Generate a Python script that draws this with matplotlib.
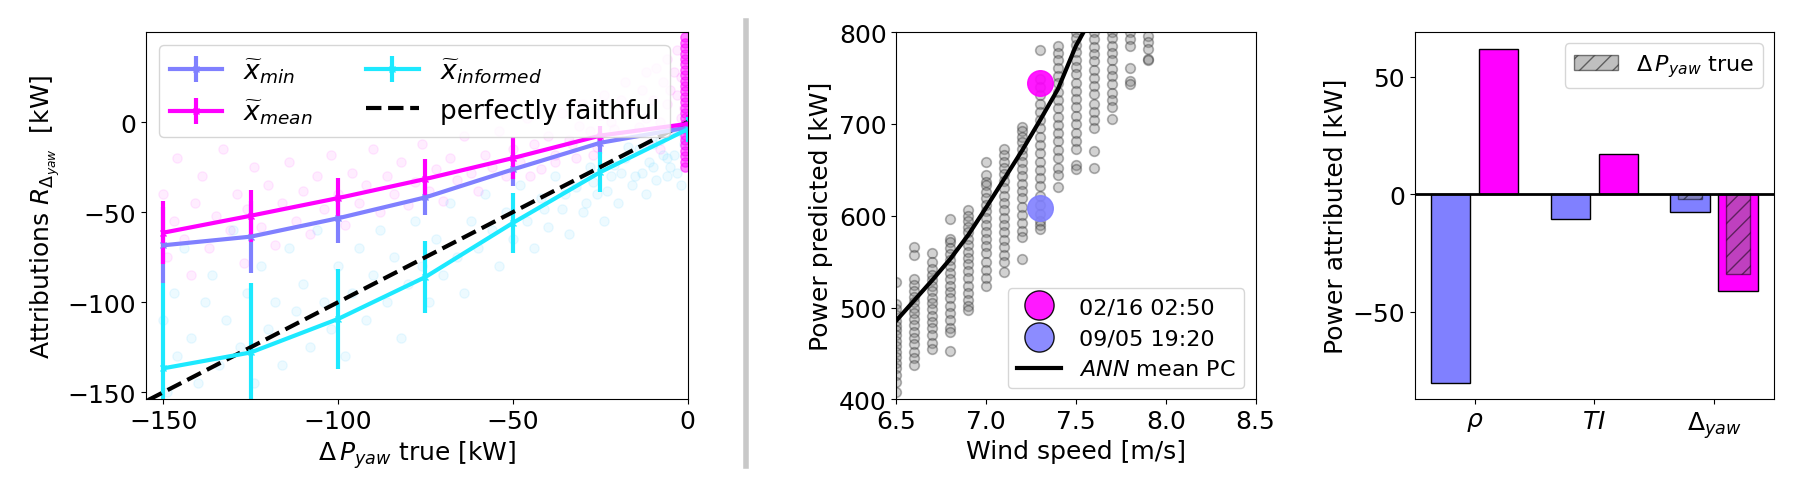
import numpy as np
import matplotlib
matplotlib.use("Agg")
import matplotlib.pyplot as plt
from matplotlib.lines import Line2D
from matplotlib.patches import Patch

# ---- left panel: attributions vs true delta P ----
dp_true = [-150, -125, -100, -75, -50, -25, 0]
r_min = [-68.4, -63.6, -53.4, -41.8, -26.3, -11.5, -3]
r_min_err = [21, 20, 13.5, 10, 9, 6, 4]
r_mean = [-61.4, -52, -42.2, -31.6, -20, -7.5, -1]
r_mean_err = [17.5, 14.5, 11, 11, 11.5, 5.5, 5]
r_inf = [-136.7, -127.9, -109.3, -86, -56, -27.8, -4]
r_inf_err = [47.5, 38.5, 28, 20, 16.5, 11, 7]

# faint background samples
pink_x = [-150, -149, -147, -146, -144, -142, -141, -139, -137, -135,
          -133, -131, -129, -127, -126, -124, -122, -120, -118, -116,
          -114, -112, -110, -108, -106, -104, -102, -100, -98, -96,
          -94, -92, -90, -88, -86, -84, -82, -80, -78, -76,
          -74, -72, -70, -68, -66, -64, -62, -60, -58, -56,
          -54, -52, -50, -48, -46, -44, -42, -40, -38, -36,
          -34, -32, -30, -28, -26, -24, -22, -20, -18, -16,
          -14, -12, -10, -8, -6, -5, -4, -3, -2, -1,
          -45, -38, -33, -27, -21, -17, -13, -11, -9, -7,
          -31, -25, -19, -15, -6, -4, -3, -2, -12, -8]
pink_y = [-40, -75, -55, -20, -65, -85, -45, -30, -70, -52,
          -15, -60, -40, -78, -48, -25, -58, -35, -68, -45,
          -22, -55, -38, -62, -30, -48, -18, -40, -57, -28,
          -45, -35, -15, -50, -30, -40, -22, -46, -33, -12,
          -38, -26, -44, -20, -32, -8, -28, -38, -18, -25,
          -5, -30, -15, -22, 2, -12, -26, -8, -18, 5,
          -10, -20, 10, -5, -14, 15, 0, -8, 22, 5,
          -3, 28, 12, 0, 35, 18, -5, 40, 25, 8,
          -30, -22, -12, -18, -4, 8, 18, -12, 30, 22,
          -2, 4, 12, -6, 10, 28, 15, 2, 2, -15]
cyan_x = [-150, -149, -147, -146, -144, -142, -140, -138, -136, -134,
          -132, -130, -128, -126, -124, -122, -120, -118, -116, -114,
          -112, -110, -108, -106, -104, -102, -100, -98, -96, -94,
          -92, -90, -88, -86, -84, -82, -80, -78, -76, -74,
          -72, -70, -68, -66, -64, -62, -60, -58, -56, -54,
          -52, -50, -48, -46, -44, -42, -40, -38, -36, -34,
          -32, -30, -28, -26, -24, -22, -20, -18, -16, -14,
          -12, -10, -8, -6, -4, -3, -2, -1,
          -41, -35, -29, -23, -19, -15, -11, -9, -7, -5,
          -27, -21, -17, -13, -10, -6, -3, -1]
cyan_y = [-110, -150, -95, -130, -70, -120, -145, -100, -85, -135,
          -110, -60, -125, -95, -145, -80, -115, -100, -135, -70,
          -105, -90, -125, -60, -100, -115, -80, -130, -95, -70,
          -110, -85, -60, -100, -75, -120, -90, -55, -80, -100,
          -65, -85, -45, -75, -95, -55, -70, -40, -60, -80,
          -50, -65, -35, -55, -70, -42, -58, -30, -48, -62,
          -36, -50, -25, -40, -55, -30, -45, -20, -35, -15,
          -40, -25, -10, -30, -18, -5, -35, -12,
          -48, -40, -45, -38, -28, -30, -22, -32, -18, -25,
          -33, -24, -14, -28, -12, -20, -28, -8]
band_y = [47, 44, 41, 38, 35, 32, 29, 26, 23, 20, 17, 14, 11, 8, 5, 2,
          -1, -4, -7, -10, -13, -16, -19, -22, -25]

# ---- middle panel: power curve ----
ws_cols = [6.5, 6.6, 6.7, 6.8, 6.9, 7.0, 7.1, 7.2, 7.3, 7.4, 7.5, 7.6, 7.7, 7.8, 7.9]
p_cols = [
    [528, 504, 498, 492, 485, 480, 476, 470, 464, 458, 452, 446, 440, 434, 427, 419, 408],
    [566, 557, 531, 525, 518, 512, 506, 500, 494, 488, 481, 474, 467, 460, 452, 445, 437],
    [559, 550, 542, 536, 530, 524, 518, 511, 505, 498, 491, 484, 478, 470, 462, 455],
    [597, 575, 571, 565, 558, 552, 545, 538, 531, 524, 517, 510, 502, 494, 486, 478, 473, 453],
    [606, 600, 594, 588, 582, 575, 568, 561, 554, 547, 540, 532, 524, 516, 508, 502, 497],
    [658, 644, 637, 633, 626, 619, 612, 605, 598, 590, 582, 575, 567, 559, 550, 541, 532, 524],
    [673, 666, 659, 652, 645, 638, 630, 622, 614, 606, 598, 590, 582, 574, 566, 557, 550, 539],
    [697, 692, 686, 680, 673, 666, 659, 651, 643, 635, 627, 619, 610, 601, 592, 583, 577, 553],
    [780, 749, 740, 731, 722, 713, 704, 695, 686, 677, 668, 659, 650, 641, 632, 622, 612, 602, 594, 590, 586],
    [785, 777, 769, 761, 752, 744, 735, 726, 717, 708, 699, 690, 681, 672, 663, 652, 644, 631],
    [820, 810, 800, 793, 786, 778, 770, 762, 754, 745, 736, 727, 718, 709, 700, 690, 681, 673, 655, 651],
    [820, 800, 792, 784, 776, 768, 759, 750, 741, 732, 722, 713, 704, 695, 670, 652],
    [815, 800, 793, 785, 777, 769, 760, 752, 743, 734, 726, 718, 705],
    [805, 800, 792, 785, 761, 747, 743],
    [796, 789, 782, 771, 769],
]
ws_curve = [6.5, 6.6, 6.7, 6.8, 6.9, 7.0, 7.1, 7.2, 7.3, 7.4, 7.5, 7.6]
p_curve = [486, 508, 530, 553, 579, 609, 640, 671, 704, 738, 785, 820]
case_labels = ['02/16 02:50', '09/05 19:20']
case_ws = [7.3, 7.3]
case_p = [745, 608]

# ---- right panel: attributions per feature ----
features = [r'$\rho$', r'$TI$', r'$\Delta_{yaw}$']
attr_blue = [-80.3, -10.7, -7.4]
attr_mag = [62, 17, -41]
true_blue = -2.1
true_mag = -33.8

c_blue = '#8080ff'
c_mag = '#ff00ff'
c_cyan = '#1de9ff'

plt.rcParams['font.size'] = 18
fig = plt.figure(figsize=(18, 4.89), dpi=100)
ax1 = fig.add_axes([0.081, 0.181, 0.301, 0.7515])
ax2 = fig.add_axes([0.498, 0.181, 0.1995, 0.7515])
ax3 = fig.add_axes([0.786, 0.181, 0.1995, 0.7515])

# left
ax1.scatter(pink_x, pink_y, s=45, color=c_mag, alpha=0.07)
ax1.scatter(cyan_x, cyan_y, s=45, color='#00bfff', alpha=0.07)
ax1.scatter([-0.8] * len(band_y), band_y, s=45, color=c_mag, alpha=0.5)
ax1.errorbar(dp_true, r_min, yerr=r_min_err, color=c_blue, lw=3, elinewidth=3,
             marker='x', ms=5, label=r'$\widetilde{x}_{min}$')
ax1.errorbar(dp_true, r_mean, yerr=r_mean_err, color=c_mag, lw=3, elinewidth=3,
             marker='x', ms=5, label=r'$\widetilde{x}_{mean}$')
ax1.errorbar(dp_true, r_inf, yerr=r_inf_err, color=c_cyan, lw=3, elinewidth=3,
             marker='x', ms=5, label=r'$\widetilde{x}_{informed}$')
ax1.plot([-160, 0], [-160, 0], 'k--', lw=3, label='perfectly faithful')
ax1.set_xlim(-155, 0)
ax1.set_ylim(-154, 50)
ax1.set_xticks([-150, -100, -50, 0])
ax1.set_yticks([-150, -100, -50, 0])
ax1.set_xlabel(r'$\Delta \, P_{yaw}$ true [kW]')
ax1.set_ylabel(r'Attributions $R_{\Delta_{yaw}}$  [kW]')
h, l = ax1.get_legend_handles_labels()
order = [1, 2, 3, 0]
ax1.legend([h[i] for i in order], [l[i] for i in order], loc='upper left', ncol=2,
           fontsize=19)

# middle
for ws, ps in zip(ws_cols, p_cols):
    ax2.scatter([ws] * len(ps), ps, s=48, color='grey', edgecolor='#222222',
                linewidths=1.2, alpha=0.35)
ax2.plot(ws_curve, p_curve, color='k', lw=3)
ax2.scatter(case_ws[0], case_p[0], s=340, color=c_mag, alpha=0.9, zorder=3)
ax2.scatter(case_ws[1], case_p[1], s=340, color=c_blue, alpha=0.9, zorder=3)
ax2.set_xlim(6.5, 8.5)
ax2.set_ylim(400, 800)
ax2.set_xticks([6.5, 7.0, 7.5, 8.0, 8.5])
ax2.set_yticks([400, 500, 600, 700, 800])
ax2.set_xlabel('Wind speed [m/s]')
ax2.set_ylabel('Power predicted [kW]')
handles = [
    Line2D([], [], ls='none', marker='o', ms=21, mfc=c_mag, mec='k', alpha=0.9),
    Line2D([], [], ls='none', marker='o', ms=21, mfc=c_blue, mec='k', alpha=0.9),
    Line2D([], [], color='k', lw=3),
]
ax2.legend(handles, case_labels + [r'$ANN$ mean PC'], loc='lower right', fontsize=16)

# right
pos = np.arange(len(features))
ax3.bar(pos - 0.2, attr_blue, width=0.33, color=c_blue, edgecolor='k')
ax3.bar(pos + 0.2, attr_mag, width=0.33, color=c_mag, edgecolor='k')
ax3.bar([pos[2] - 0.2, pos[2] + 0.2], [true_blue, true_mag], width=0.2,
        color='grey', edgecolor='k', alpha=0.5, hatch='//')
ax3.axhline(0, color='k', lw=2)
ax3.set_xlim(-0.5, 2.5)
ax3.set_xticks(pos)
ax3.set_xticklabels(features)
ax3.set_yticks([-50, 0, 50])
ax3.set_ylabel('Power attributed [kW]')
ax3.legend([Patch(facecolor='grey', edgecolor='k', alpha=0.5, hatch='//')],
           [r'$\Delta \, P_{yaw}$ true'], loc='upper right', fontsize=16)

# separator between the two groups
fig.add_artist(Line2D([0.4145, 0.4145], [0.045, 0.954], color='#c8c8c8', lw=4))

fig.savefig('out.png', dpi=100)
